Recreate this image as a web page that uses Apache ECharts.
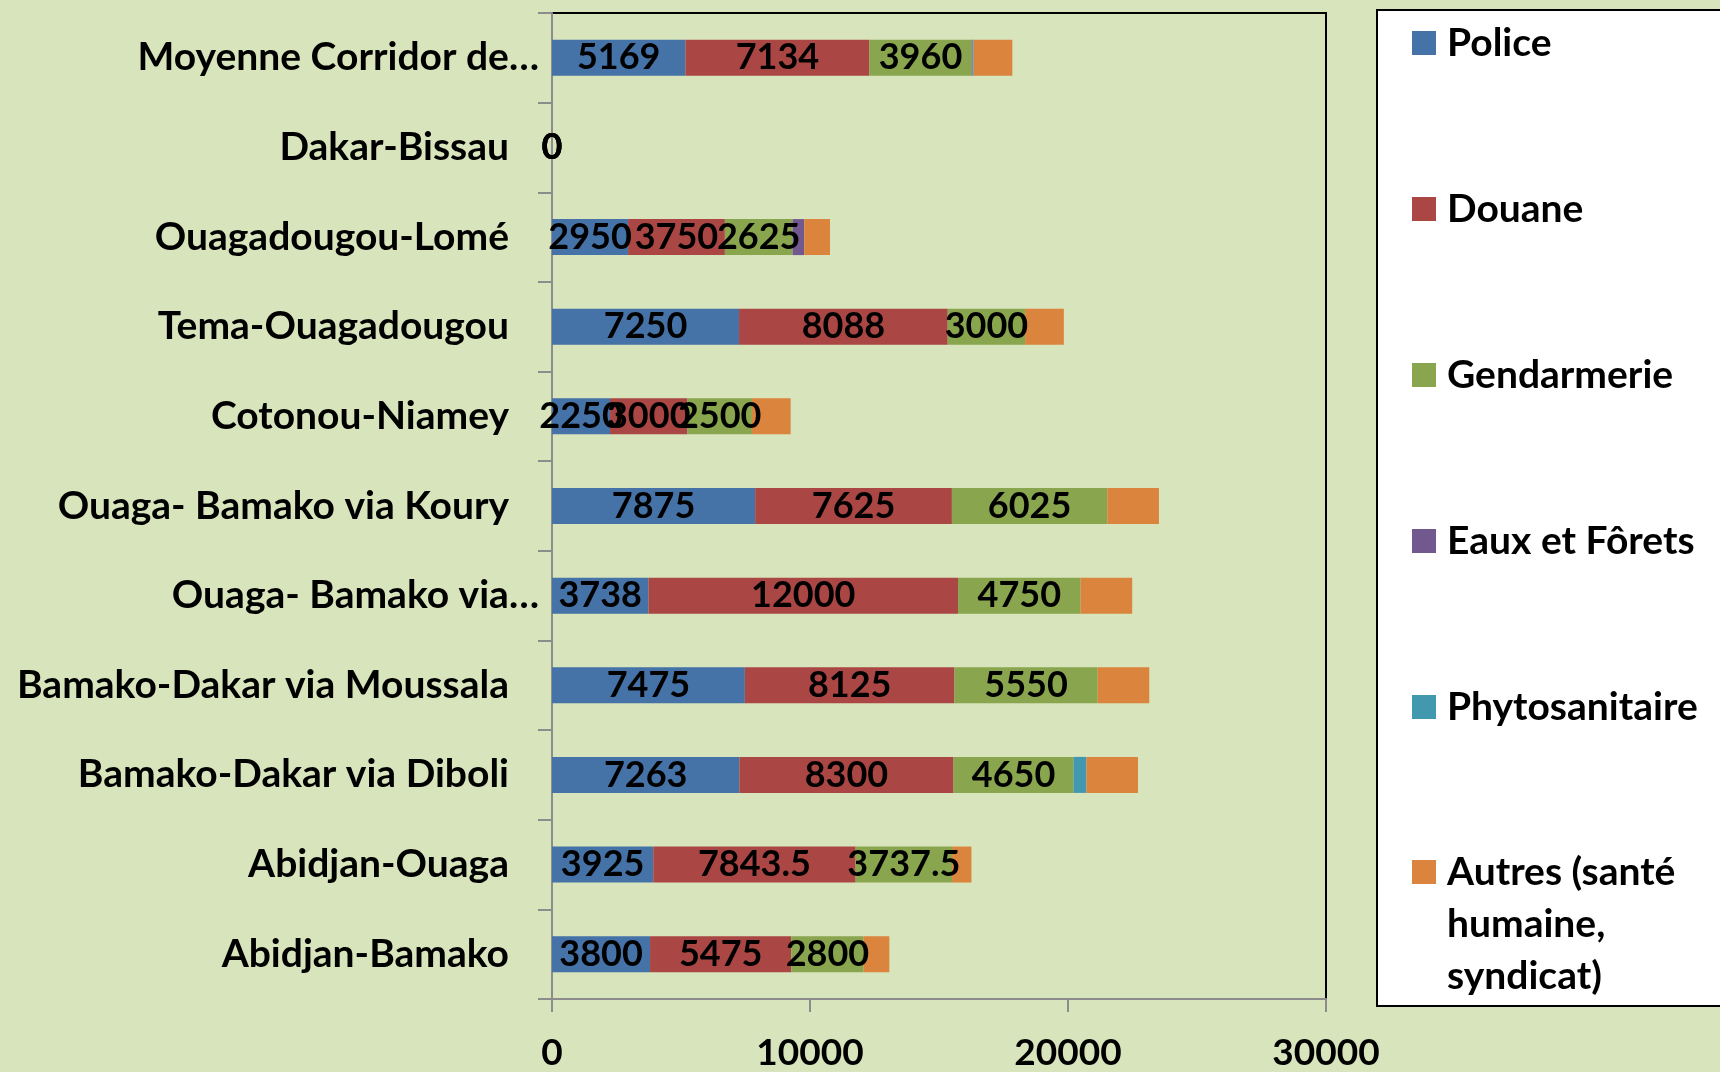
<!DOCTYPE html>
<html>
<head>
<meta charset="utf-8">
<script src="https://cdn.jsdelivr.net/npm/echarts@6/dist/echarts.min.js"></script>
<style>
  html, body { margin: 0; padding: 0; background: #D8E4BC; }
  #chart { width: 1720px; height: 1072px; }
</style>
</head>
<body>
<div id="chart"></div>
<script>
  // corridors, top to bottom as in the picture
  var categories = ['Moyenne Corridor de…', 'Dakar-Bissau', 'Ouagadougou-Lomé', 'Tema-Ouagadougou',
    'Cotonou-Niamey', 'Ouaga- Bamako via Koury', 'Ouaga- Bamako via…', 'Bamako-Dakar via Moussala',
    'Bamako-Dakar via Diboli', 'Abidjan-Ouaga', 'Abidjan-Bamako'];
  // labels cut by the source (they sit closer to the axis)
  var cutLabels = ['Moyenne Corridor de…', 'Ouaga- Bamako via…'];

  var police = [5169, 0, 2950, 7250, 2250, 7875, 3738, 7475, 7263, 3925, 3800];
  var douane = [7134, 0, 3750, 8088, 3000, 7625, 12000, 8125, 8300, 7843.5, 5475];
  var gendarmerie = [3960, 0, 2625, 3000, 2500, 6025, 4750, 5550, 4650, 3737.5, 2800];
  var eauxForets = [40, 0, 450, 0, 0, 0, 0, 0, 0, 0, 0];
  var phyto = [40, 0, 0, 0, 0, 0, 0, 0, 500, 0, 0];
  var autres = [1500, 0, 1000, 1500, 1500, 2000, 2000, 2000, 2000, 750, 1000];

  var xTicks = [0, 10000, 20000, 30000];

  var font = 'Lato';

  //一条堆叠系列
  function makeSeries(name, data, color, withLabel){
    return {
      name: name,
      type: 'bar',
      stack: 'total',
      barWidth: 36,
      data: data,
      itemStyle: { color: color },
      label: {
        show: withLabel,
        position: 'inside',
        color: '#000',
        fontFamily: font,
        fontWeight: 'bold',
        fontSize: 36,
        textBorderWidth: 0
      },
      emphasis: { disabled: true }
    };
  }

  var legendText = { color: '#000', fontFamily: font, fontWeight: 'bold', fontSize: 39, padding: [0, 0, 0, 6] };

  var option = {
    backgroundColor: '#D8E4BC',
    animation: false,
    graphic: [{
      type: 'rect',
      shape: { x: 1377, y: 10, width: 400, height: 996 },
      style: { fill: '#fff', stroke: '#000', lineWidth: 2 },
      z: 0
    }],
    legend: [{
      orient: 'vertical',
      left: 1412,
      top: 23,
      padding: 0,
      itemWidth: 24,
      itemHeight: 24,
      itemGap: 126,
      icon: 'rect',
      data: ['Police', 'Douane', 'Gendarmerie', 'Eaux et Fôrets', 'Phytosanitaire'],
      textStyle: Object.assign({ lineHeight: 40 }, legendText),
      selectedMode: false
    }, {
      orient: 'vertical',
      left: 1412,
      top: 742,
      padding: 0,
      itemWidth: 24,
      itemHeight: 24,
      icon: 'rect',
      data: ['Autres (santé humaine, syndicat)'],
      formatter: function(){ return '\n\nAutres (santé\nhumaine,\nsyndicat)'; },
      textStyle: Object.assign({ lineHeight: 52 }, legendText),
      selectedMode: false
    }],
    grid: {
      left: 552,
      right: 394,
      top: 13,
      bottom: 72,
      show: true,
      borderColor: '#000',
      borderWidth: 2,
      backgroundColor: 'transparent'
    },
    xAxis: {
      type: 'value',
      min: xTicks[0],
      max: xTicks[xTicks.length - 1],
      interval: xTicks[1] - xTicks[0],
      axisLine: { show: true, lineStyle: { color: '#8c8c8c', width: 2 } },
      axisTick: { show: true, length: 13, lineStyle: { color: '#8c8c8c', width: 2 } },
      splitLine: { show: false },
      axisLabel: {
        margin: 36,
        formatter: function(v){ return String(v); },
        color: '#000', fontFamily: font, fontWeight: 'bold', fontSize: 37
      }
    },
    yAxis: {
      type: 'category',
      inverse: true,
      data: categories,
      axisLine: { show: true, lineStyle: { color: '#8c8c8c', width: 2 } },
      axisTick: { show: true, length: 14, lineStyle: { color: '#8c8c8c', width: 2 } },
      splitLine: { show: false },
      axisLabel: {
        margin: 13,
        formatter: function(v){
          return cutLabels.indexOf(v) >= 0 ? '{c|' + v + '}' : '{n|' + v + '}';
        },
        rich: {
          n: { color: '#000', fontFamily: font, fontWeight: 'bold', fontSize: 39, padding: [0, 30, 0, 0] },
          c: { color: '#000', fontFamily: font, fontWeight: 'bold', fontSize: 39 }
        }
      }
    },
    series: [
      makeSeries('Police', police, '#4572A7', true),
      makeSeries('Douane', douane, '#AA4643', true),
      makeSeries('Gendarmerie', gendarmerie, '#89A54E', true),
      makeSeries('Eaux et Fôrets', eauxForets, '#71588F', false),
      makeSeries('Phytosanitaire', phyto, '#4198AF', false),
      makeSeries('Autres (santé humaine, syndicat)', autres, '#DB843D', false)
    ]
  };

  var myChart = echarts.init(document.getElementById('chart'));
  myChart.setOption(option);
</script>
</body>
</html>
